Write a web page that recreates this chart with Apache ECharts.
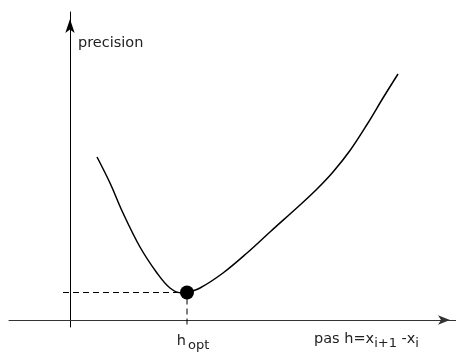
<!DOCTYPE html>
<html>
<head>
<meta charset="utf-8">
<script src="https://cdn.jsdelivr.net/npm/echarts@6/dist/echarts.min.js"></script>
<style>html,body{margin:0;padding:0;background:#fff}#c{width:456px;height:354px}</style>
</head>
<body>
<div id="c"></div>
<script>
// Axis ranges (abstract units: y-axis at h = 0, x-axis at precision = 0)
const xRange = [-6.1, 38.6];
const yRange = [-0.7, 30.8];

// Precision curve
const curveX = [2.7, 4.0, 5.3, 7.0, 8.7, 10.0, 11.2, 11.7, 13.0, 15.3, 17.7, 20.0, 23.0, 24.7, 26.3, 28.0, 29.7, 31.3, 32.8];
const curveY = [16.3, 13.7, 10.7, 7.3, 4.7, 3.2, 2.7, 2.75, 3.2, 4.7, 6.7, 8.8, 11.5, 13.1, 14.8, 16.95, 19.55, 22.2, 24.6];

// Optimum point
const optX = [11.7];
const optY = [2.75];

// Dashed guide (from left of y-axis to the optimum, then down below x-axis)
const guideX = [-0.7, 11.7, 11.7];
const guideY = [2.75, 2.75, -0.7];

const yName = 'precision';
const xName = 'pas h=x{sub|i+1} -x{sub|i}';
const optName = 'h{sub|opt}';

const font = 'DejaVu Sans';
const chart = echarts.init(document.getElementById('c'), null, {renderer: 'canvas'});
chart.setOption({
  animation: false,
  backgroundColor: '#fff',
  grid: {left: 9, right: 0, top: 12, bottom: 27, containLabel: false, outerBoundsMode: 'none'},
  xAxis: {
    type: 'value', min: xRange[0], max: xRange[1],
    splitLine: {show: false}, axisTick: {show: false}, axisLabel: {show: false},
    axisLine: {show: true, onZero: true, symbol: ['none', 'arrow'], symbolSize: [7, 12], symbolOffset: [0, -6],
      lineStyle: {color: '#333', width: 1}},
    name: xName, nameLocation: 'end', nameGap: -142, nameMoveOverlap: false,
    nameTextStyle: {
      fontFamily: font, fontSize: 14.5, color: '#222', align: 'left', verticalAlign: 'top',
      padding: [11, 0, 0, 0], lineHeight: 16,
      rich: {sub: {fontFamily: font, fontSize: 13, color: '#222', lineHeight: 16, padding: [10, 0, 0, 0]}}
    }
  },
  yAxis: {
    type: 'value', min: yRange[0], max: yRange[1],
    splitLine: {show: false}, axisTick: {show: false}, axisLabel: {show: false},
    axisLine: {show: true, onZero: true, symbol: ['none', 'arrow'], symbolSize: [7, 14], symbolOffset: [0, -7],
      lineStyle: {color: '#000', width: 1}},
    name: yName, nameLocation: 'end', nameGap: -31, nameMoveOverlap: false,
    nameTextStyle: {fontFamily: font, fontSize: 14.5, color: '#222', align: 'left', verticalAlign: 'middle', padding: [0, 0, 0, 8]}
  },
  series: [
    {
      type: 'line', data: curveX.map((x, i) => [x, curveY[i]]),
      smooth: 0.35, showSymbol: false, lineStyle: {color: '#000', width: 1.5}, silent: true, z: 3
    },
    {
      type: 'line', data: guideX.map((x, i) => [x, guideY[i]]),
      showSymbol: false, lineStyle: {color: '#000', width: 1, type: [6, 4]}, silent: true, z: 2
    },
    {
      type: 'scatter', data: optX.map((x, i) => [x, optY[i]]),
      symbol: 'circle', symbolSize: 14, itemStyle: {color: '#000', opacity: 1}, z: 4, silent: true,
      label: {
        show: true, position: 'inside', offset: [6, 48.5], formatter: optName,
        fontFamily: font, fontSize: 14.5, color: '#222', opacity: 1, lineHeight: 16,
        rich: {sub: {fontFamily: font, fontSize: 13, color: '#222', lineHeight: 16, padding: [10, 0, 0, 2]}}
      }
    }
  ]
});
</script>
</body>
</html>
